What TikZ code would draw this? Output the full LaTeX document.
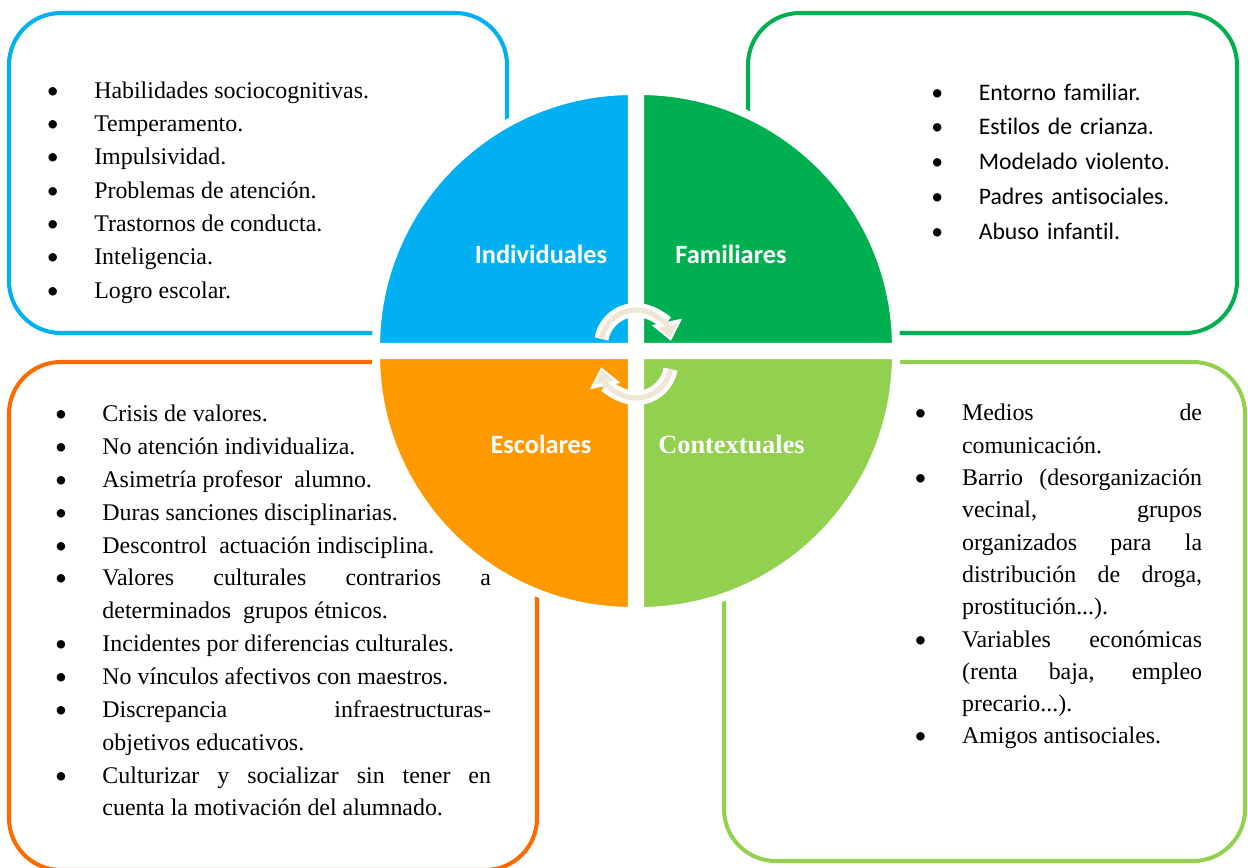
\documentclass[tikz,border=0pt]{standalone}
\usepackage{fontspec}
\setmainfont{Liberation Serif}
\newfontfamily\calibri[Ligatures=NoCommon]{Carlito}
\usetikzlibrary{arrows.meta}

\definecolor{indblue}{HTML}{00B0F0}
\definecolor{famgreen}{HTML}{00B050}
\definecolor{escorange}{HTML}{FF9900}
\definecolor{escline}{HTML}{FF6A00}
\definecolor{conlime}{HTML}{92D050}
\definecolor{cream}{HTML}{EEE7D6}

\newlength{\bulletindent}
\setlength{\bulletindent}{27pt}
\newcommand{\bitem}[1]{\hangindent=\bulletindent\hangafter=1\noindent
  \makebox[\bulletindent][l]{\calibri\textbullet}#1\par}
\newcommand{\nobreaks}{\hyphenpenalty=10000 \tolerance=10000 \relax}

\tikzset{%
  % Specifications for style of frames and nodes:
         framebox/.style = {line width=2.3pt, rounded corners=29.5pt},
          quarter/.style = {draw=white, line width=4.6pt},
              tag/.style = {text=white, font=\calibri\bfseries\fontsize{15}{18}\selectfont},
       serifitems/.style = {anchor=base west, inner sep=0pt, align=justify,
                            font=\fontsize{13.6}{#1}\selectfont},
     calibriitems/.style = {anchor=base west, inner sep=0pt, align=left,
                            font=\calibri\fontsize{13.5}{19.9}\selectfont},
       cyclewhite/.style = {white, line width=8pt, shorten >=-1.8pt,
                            -{Triangle[length=11pt,width=17pt]}},
       cyclecream/.style = {cream, line width=3pt, -{Triangle[length=7pt,width=10.5pt]}},
}

\begin{document}
\begin{tikzpicture}[x=0.02cm, y=-0.02cm]
  \useasboundingbox (0,0) rectangle (1248,867);

  % Frames around the lists
  \draw[framebox, draw=indblue]  (9,13)    rectangle (507,333);
  \draw[framebox, draw=famgreen] (748,13)  rectangle (1237,333);
  \draw[framebox, draw=escline]  (9,362)   rectangle (537,870);
  \draw[framebox, draw=conlime]  (724,362) rectangle (1245,861);

  % Quarter circles
  \coordinate (hub) at (636,351);
  \path[quarter, fill=indblue]   ([shift={(-4,-4)}]hub) -- ++(180:256) arc[start angle=180, end angle=270, radius=256] -- cycle;
  \path[quarter, fill=famgreen]  ([shift={(4,-4)}]hub)  -- ++(270:256) arc[start angle=270, end angle=360, radius=256] -- cycle;
  \path[quarter, fill=conlime]   ([shift={(4,4)}]hub)   -- ++(0:256)   arc[start angle=0,   end angle=90,  radius=256] -- cycle;
  \path[quarter, fill=escorange] ([shift={(-4,4)}]hub)  -- ++(90:256)  arc[start angle=90,  end angle=180, radius=256] -- cycle;

  \node (ind) [tag, anchor=base] at (541,263) {Individuales};
  \node (fam) [tag, anchor=base] at (731,263) {Familiares};
  \node (esc) [tag, anchor=base] at (541,453) {Escolares};
  \node (con) [tag, anchor=base, font=\bfseries\fontsize{15}{18}\selectfont] at (731.5,453) {Contextuales};

  % Lists
  \node (indlist) [serifitems=19, text width=8.8cm] at (46.5,98) {\nobreaks
    \bitem{Habilidades sociocognitivas.}
    \bitem{Temperamento.}
    \bitem{Impulsividad.}
    \bitem{Problemas de atención.}
    \bitem{Trastornos de conducta.}
    \bitem{Inteligencia.}
    \bitem{Logro escolar.}};
  \node (famlist) [calibriitems, text width=5.8cm] at (931,100) {%
    \bitem{Entorno familiar.}
    \bitem{Estilos de crianza.}
    \bitem{Modelado violento.}
    \bitem{Padres antisociales.}
    \bitem{Abuso infantil.}};
  \node (esclist) [serifitems=18.7, text width=8.72cm] at (54.7,421.7) {\nobreaks
    \bitem{Crisis de valores.}
    \bitem{No atención individualiza.}
    \bitem{Asimetría profesor\ \ alumno.}
    \bitem{Duras sanciones disciplinarias.}
    \bitem{Descontrol\ \ actuación indisciplina.}
    \bitem{Valores culturales contrarios a\linebreak determinados\ \ grupos étnicos.}
    \bitem{Incidentes por diferencias culturales.}
    \bitem{No vínculos afectivos con maestros.}
    \bitem{Discrepancia infraestructuras-\linebreak objetivos educativos.}
    \bitem{Culturizar y socializar sin tener en\linebreak cuenta la motivación del alumnado.}};
  \node (conlist) [serifitems=18.4, text width=5.75cm] at (914.3,420.7) {\nobreaks
    \bitem{Medios de\linebreak comunicación.}
    \bitem{Barrio (desorganización\linebreak vecinal, grupos\linebreak organizados para la\linebreak distribución de droga,\linebreak prostitución...).}
    \bitem{Variables económicas\linebreak (renta baja, empleo\linebreak precario...).}
    \bitem{Amigos antisociales.}};

  % Cycle arrows in the middle
  \coordinate (loopup) at (636,345);
  \coordinate (loopdown) at (636,363);
  \draw[cyclewhite] ([shift={(-170:35)}]loopup) arc[start angle=-170, end angle=-12, radius=35];
  \draw[cyclecream] ([shift={(-170:35)}]loopup) arc[start angle=-170, end angle=-12, radius=35];
  \draw[cyclewhite] ([shift={(10:35)}]loopdown) arc[start angle=10, end angle=168, radius=35];
  \draw[cyclecream] ([shift={(10:35)}]loopdown) arc[start angle=10, end angle=168, radius=35];
\end{tikzpicture}
\end{document}
